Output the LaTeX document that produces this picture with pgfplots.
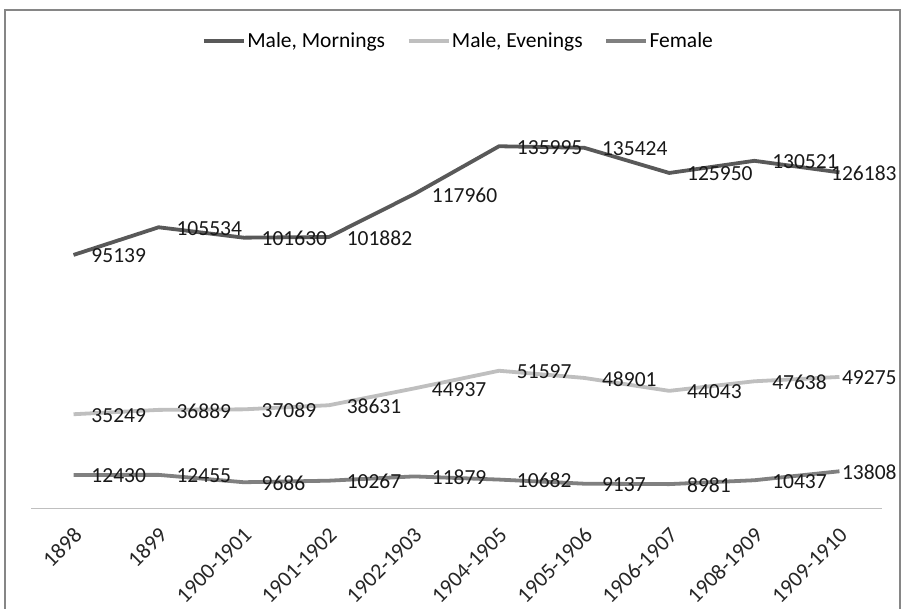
\documentclass[border=0pt]{standalone}
\usepackage{pgfplots}
\usepackage{pgfplotstable}
\pgfplotsset{compat=1.18}
\usepackage{fontspec}
\setmainfont{Carlito}
\definecolor{cMM}{HTML}{595959}
\definecolor{cME}{HTML}{BFBFBF}
\definecolor{cF}{HTML}{808080}
\definecolor{cFrame}{HTML}{868686}
\definecolor{cAx}{HTML}{BFBFBF}
\pgfplotstableread{
x mm me f
0 95139 35249 12430
1 105534 36889 12455
2 101630 37089 9686
3 101882 38631 10267
4 117960 44937 11879
5 135995 51597 10682
6 135424 48901 9137
7 125950 44043 8981
8 130521 47638 10437
9 126183 49275 13808
}\data
\begin{document}
\begin{tikzpicture}
\begin{axis}[
  at={(0,0)}, anchor=south west,
  scale only axis, width=851bp, height=425.6bp,
  xmin=-0.5, xmax=9.5, ymin=0, ymax=160000,
  axis x line*=bottom, hide y axis,
  x axis line style={cAx, line width=1bp},
  xtick={0,...,9},
  xticklabels={1898,1899,1900-1901,1901-1902,1902-1903,1904-1905,1905-1906,1906-1907,1908-1909,1909-1910},
  major tick length=0,
  xticklabel style={xshift=-1bp, yshift=-18bp, rotate=45, anchor=north east, inner sep=0pt, text=black!85},
  /pgf/number format/assume math mode=true,
  every tick label/.append style={font=\fontsize{22bp}{26bp}\selectfont},
  clip=false,
  point meta=explicit symbolic,
  lbl/.style={nodes near coords, every node near coord/.append style={anchor=west, inner sep=0pt, xshift=16bp, yshift=-1bp, text=black!90, font=\fontsize{21.5bp}{25bp}\selectfont}},
  lblend/.style={nodes near coords, every node near coord/.append style={anchor=east, inner sep=0pt, xshift=59bp, yshift=-1bp, text=black!90, font=\fontsize{21.5bp}{25bp}\selectfont}},
  legend columns=3,
  legend style={draw=none, fill=none, at={(0.502,1.0973)}, anchor=center,
    font=\fontsize{21.5bp}{25bp}\selectfont, inner sep=0pt,
    nodes={inner sep=1.5bp},
    /tikz/every even column/.append style={column sep=20bp}},
  legend image code/.code={\draw[#1] (0bp,0bp) -- (40bp,0bp);},
  every axis plot/.append style={sharp plot, line join=round, line width=3.8bp, mark=none},
]
\addplot[cMM] table[x=x, y=mm] {\data};
\addlegendentry{Male, Mornings}
\addplot[cME] table[x=x, y=me] {\data};
\addlegendentry{Male, Evenings}
\addplot[cF] table[x=x, y=f] {\data};
\addlegendentry{Female}
\addplot[draw=none, forget plot, lbl, skip coords between index={9}{10}] table[x=x, y=mm, meta=mm] {\data};
\addplot[draw=none, forget plot, lbl, skip coords between index={9}{10}] table[x=x, y=me, meta=me] {\data};
\addplot[draw=none, forget plot, lbl, skip coords between index={9}{10}] table[x=x, y=f, meta=f] {\data};
\addplot[draw=none, forget plot, lblend, skip coords between index={0}{9}] table[x=x, y=mm, meta=mm] {\data};
\addplot[draw=none, forget plot, lblend, skip coords between index={0}{9}] table[x=x, y=me, meta=me] {\data};
\addplot[draw=none, forget plot, lblend, skip coords between index={0}{9}] table[x=x, y=f, meta=f] {\data};
\end{axis}
\draw[cFrame, line width=1.5bp] (-26bp,-101bp) -- (-26bp,498bp) -- (869bp,498bp) -- (869bp,-101bp);
\pgfresetboundingbox
\useasboundingbox (-31bp,-101bp) rectangle (873bp,508bp);
\end{tikzpicture}
\end{document}
